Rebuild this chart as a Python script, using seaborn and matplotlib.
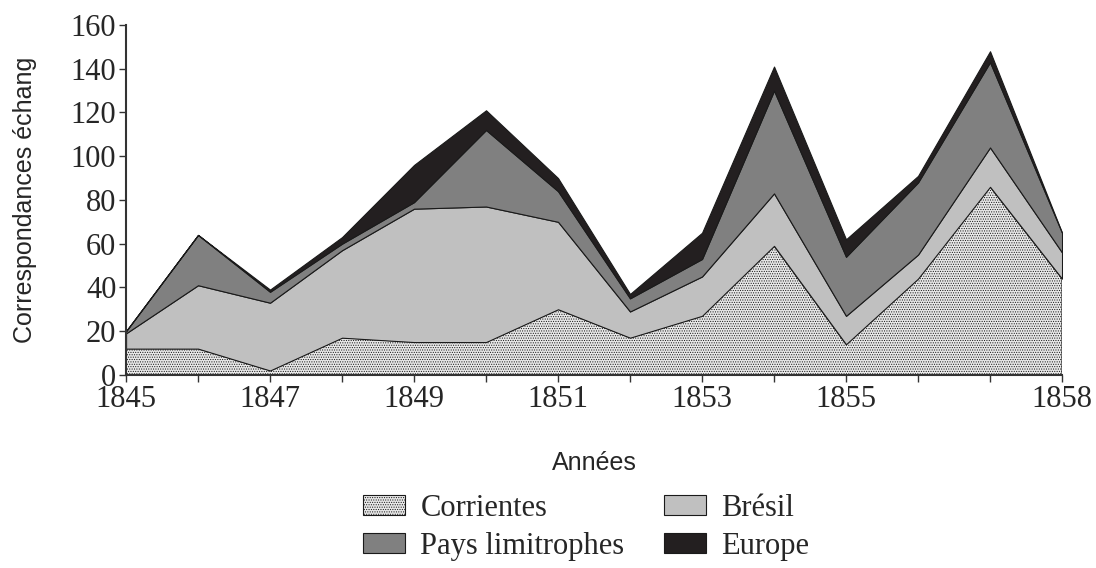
import matplotlib
matplotlib.use("Agg")
import matplotlib.pyplot as plt
import numpy as np
import seaborn as sns

years = list(range(1845, 1859))
corrientes = [12, 12, 2, 17, 15, 15, 30, 17, 27, 59, 14, 44, 86, 44]
bresil = [7, 29, 31, 40, 61, 62, 40, 12, 18, 24, 13, 11, 18, 12]
pays_limitrophes = [1, 23, 5, 3, 3, 35, 14, 6, 8, 47, 27, 33, 39, 9]
europe = [0, 0, 1, 3, 17, 9, 6, 2, 12, 11, 8, 3, 5, 0]

series_labels = ["Corrientes", "Brésil", "Pays limitrophes", "Europe"]
shown_years = [1845, 1847, 1849, 1851, 1853, 1855, 1858]
y_ticks = [0, 20, 40, 60, 80, 100, 120, 140, 160]

sns.set_style("ticks")
plt.rcParams["font.family"] = ["Liberation Serif", "DejaVu Serif"]
plt.rcParams["hatch.color"] = "#a8a8a8"
plt.rcParams["hatch.linewidth"] = 0.5

fig = plt.figure(figsize=(10.96, 5.68), dpi=100)
ax = fig.add_axes([0.115, 0.34, 0.854, 0.616])

colors = ["#e8e8e8", "#c0c0c0", "#808080", "#231f20"]
polys = ax.stackplot(
    years,
    corrientes, bresil, pays_limitrophes, europe,
    labels=series_labels,
    colors=colors,
    edgecolor="#1a1a1a",
    linewidth=0.8,
)
polys[0].set_hatch(".......")

ax.set_xlim(1845, 1858)
ax.set_ylim(0, 160)
ax.set_xticks(years)
ax.set_xticklabels([str(y) if y in shown_years else "" for y in years])
ax.set_yticks(y_ticks)
ax.tick_params(axis="both", labelsize=22, length=5, width=1, color="#333333",
               pad=2)
for s in ["left", "bottom"]:
    ax.spines[s].set_color("#333333")
    ax.spines[s].set_linewidth(1.5)
sns.despine(ax=ax)

ax.set_ylabel("Correspondances échang", family=["Liberation Sans"],
              fontsize=18, labelpad=24)
ax.set_xlabel("Années", family=["Liberation Sans"], fontsize=18, labelpad=27)

handles, labels = ax.get_legend_handles_labels()
order = [0, 2, 1, 3]
fig.legend(
    [handles[i] for i in order], [labels[i] for i in order],
    ncol=2, loc="center", bbox_to_anchor=(0.535, 0.072),
    frameon=False, fontsize=22, handlelength=1.37, handleheight=0.65,
    handletextpad=0.5, columnspacing=1.3, labelspacing=0.3,
    borderpad=0.1,
)

fig.savefig("out.png", dpi=100)
